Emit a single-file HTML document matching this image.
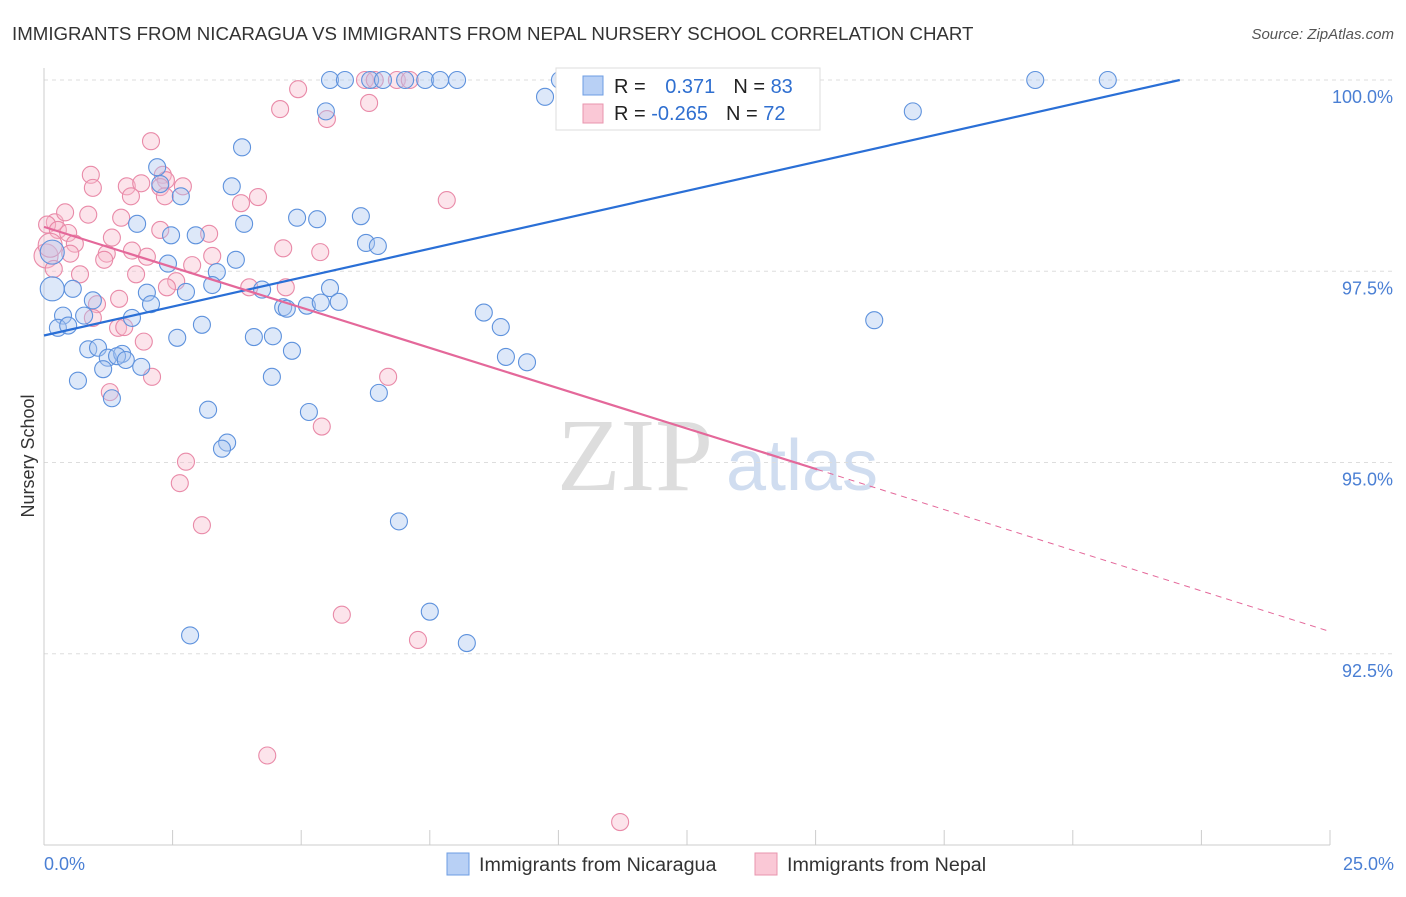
<!DOCTYPE html>
<html><head><meta charset="utf-8"><style>
body{margin:0;background:#fff;font-family:"Liberation Sans",sans-serif}
</style></head><body>
<svg id="c" width="1406" height="892" xmlns="http://www.w3.org/2000/svg" style="font-family:'Liberation Sans',sans-serif">
<text x="12" y="40" font-size="18.7" fill="#333">IMMIGRANTS FROM NICARAGUA VS IMMIGRANTS FROM NEPAL NURSERY SCHOOL CORRELATION CHART</text>
<text x="1394" y="39" font-size="15" fill="#555" text-anchor="end" font-style="italic">Source: ZipAtlas.com</text>
<text x="34" y="456" font-size="18" fill="#333" text-anchor="middle" transform="rotate(-90 34 456)">Nursery School</text>
<g><text x="635" y="490" font-size="104" fill="#ddd" font-family="Liberation Serif" text-anchor="middle">ZIP</text><text x="802" y="490" font-size="72" fill="#d0ddf0" text-anchor="middle">atlas</text></g>
<g id="grid"></g><g id="axes"></g><g id="pts"></g><g id="trend"></g>
<g>
<rect x="556" y="68" width="264" height="62" fill="#fff" stroke="#ddd"/>
<rect x="583" y="76" width="20" height="19" fill="#b8d0f5" stroke="#6d9de3"/>
<rect x="583" y="104" width="20" height="19" fill="#fac8d6" stroke="#e895ae"/>
<text x="614" y="93" font-size="20" fill="#222">R = <tspan fill="#2f6fd0" dx="14">0.371</tspan><tspan fill="#222" dx="18">N = </tspan><tspan fill="#2f6fd0">83</tspan></text>
<text x="614" y="120" font-size="20" fill="#222">R = <tspan fill="#2f6fd0">-0.265</tspan><tspan fill="#222" dx="18">N = </tspan><tspan fill="#2f6fd0">72</tspan></text>
</g>
<g>
<rect x="447" y="853" width="22" height="22" fill="#b8d0f5" stroke="#6d9de3"/>
<text x="479" y="871" font-size="19.7" fill="#333">Immigrants from Nicaragua</text>
<rect x="755" y="853" width="22" height="22" fill="#fac8d6" stroke="#e895ae"/>
<text x="787" y="871" font-size="19.7" fill="#333">Immigrants from Nepal</text>
</g>
</svg>
<script>
const yTicks=[100,97.5,95,92.5];
const yTickLabels=["100.0%","97.5%","95.0%","92.5%"];
const xEdgeLabels=["0.0%","25.0%"];
const blueX=[5.56,5.85,6.34,6.59,7.02,7.41,7.70,8.03,10.03,10.71,11.97,19.27,20.68,9.74,5.48,16.89,3.85,2.20,2.26,3.65,2.66,1.81,3.89,4.92,5.31,6.16,2.47,2.95,6.26,6.49,3.73,2.41,3.36,0.16,0.16,0.56,2.76,2.00,3.27,4.24,5.56,0.95,2.08,4.65,4.72,5.11,5.38,5.73,8.55,16.14,0.37,0.78,1.71,0.27,0.47,3.07,2.59,4.08,4.45,8.88,0.86,1.05,4.82,1.24,1.52,1.42,1.59,1.15,1.89,8.98,9.39,0.66,4.43,1.32,6.51,3.19,5.15,3.56,3.46,6.90,7.50,2.84,8.22];
const blueY=[100,100,100,100,100,100,100,100,100,99.96,100,100,100,99.78,99.59,99.59,99.12,98.86,98.64,98.61,98.48,98.12,98.12,98.20,98.18,98.22,97.97,97.97,97.87,97.83,97.65,97.60,97.49,97.75,97.27,97.27,97.23,97.22,97.32,97.26,97.28,97.12,97.07,97.03,97.01,97.05,97.09,97.10,96.96,96.86,96.92,96.92,96.89,96.76,96.79,96.80,96.63,96.64,96.65,96.77,96.48,96.50,96.46,96.37,96.42,96.39,96.34,96.22,96.25,96.38,96.31,96.07,96.12,95.84,95.91,95.69,95.66,95.26,95.18,94.23,93.05,92.74,92.64];
const pinkX=[4.94,6.24,6.43,6.86,7.11,4.59,6.32,5.50,2.08,0.91,2.31,2.37,0.95,1.61,1.89,2.70,2.26,1.69,4.16,3.83,7.83,2.35,0.86,1.50,0.21,0.41,0.06,0.27,0.47,3.21,2.26,0.60,1.32,4.65,5.37,0.04,0.51,1.71,1.22,2.00,1.17,2.88,3.27,1.79,0.70,0.19,2.57,3.99,4.70,2.39,1.03,1.46,0.95,1.44,1.56,1.94,6.69,2.10,1.28,5.40,2.76,2.64,3.07,5.79,7.27,4.34,11.20,0.12];
const pinkY=[99.88,100,100,100,100,99.62,99.70,99.49,99.20,98.76,98.76,98.69,98.59,98.61,98.65,98.61,98.60,98.48,98.47,98.39,98.43,98.48,98.24,98.20,98.14,98.27,98.11,98.04,98.00,97.99,98.04,97.86,97.94,97.80,97.75,97.70,97.73,97.77,97.73,97.69,97.65,97.58,97.70,97.46,97.46,97.53,97.37,97.29,97.29,97.29,97.07,97.14,96.89,96.76,96.77,96.58,96.12,96.12,95.92,95.47,95.01,94.73,94.18,93.01,92.68,91.17,90.30,97.84];
const blueTrend=[[0,96.66],[22.08,100]];
const pinkTrend=[[0,98.08],[15.03,94.91],[25,92.79]];
const NS="http://www.w3.org/2000/svg";
const X=v=>44+v/25*1286, Y=v=>80+(100-v)/10*765;
function mk(t,a,p){const e=document.createElementNS(NS,t);for(const k in a)e.setAttribute(k,a[k]);document.getElementById(p).appendChild(e);return e;}
yTicks.forEach((t,i)=>{
 const g=mk('line',{x1:44,x2:1394,y1:Y(t),y2:Y(t),stroke:'#ddd','stroke-dasharray':'4 4'},'grid');
 
 
 const l=mk('text',{x:1393,y:Y(t)+23,'font-size':18,fill:'#4a7fd4','text-anchor':'end'},'axes');
 l.textContent=yTickLabels[i];
 
 
});
const ax=mk('line',{x1:44,x2:1330,y1:845,y2:845,stroke:'#ccc'},'axes');


const ay=mk('line',{x1:44,x2:44,y1:68,y2:845,stroke:'#ccc'},'axes');


for(let i=0;i<=10;i++){const t=mk('line',{x1:X(i*2.5),x2:X(i*2.5),y1:830,y2:845,stroke:'#ccc'},'axes');
 
 }
[[0,'start',44],[25,'end',1394]].forEach((d,i)=>{const t=mk('text',{x:d[2],y:870,'font-size':18,fill:'#4a7fd4','text-anchor':d[1]},'axes');t.textContent=xEdgeLabels[i];
 
 });
function pts(xs,ys,f,s,n){xs.forEach((x,i)=>{const r=(x<0.2&&(ys[i]>97.6&&ys[i]<97.9||ys[i]<97.3&&ys[i]>97.2))?12:8.5;
 const c=mk('circle',{cx:X(x),cy:Y(ys[i]),r:r,fill:f,'fill-opacity':0.4,stroke:s,'stroke-width':1.1},'pts');
 
 });}
pts(pinkX,pinkY,'#f8bccd','#e98aa8','nepal-point');
pts(blueX,blueY,'#aac6f0','#5e92dd','nicaragua-point');
const bl=mk('line',{x1:X(blueTrend[0][0]),y1:Y(blueTrend[0][1]),x2:X(blueTrend[1][0]),y2:Y(blueTrend[1][1]),stroke:'#2a6fd6','stroke-width':2.2},'trend');


const pl=mk('line',{x1:X(pinkTrend[0][0]),y1:Y(pinkTrend[0][1]),x2:X(pinkTrend[1][0]),y2:Y(pinkTrend[1][1]),stroke:'#e4689a','stroke-width':2.2},'trend');


const pd=mk('line',{x1:X(pinkTrend[1][0]),y1:Y(pinkTrend[1][1]),x2:X(pinkTrend[2][0]),y2:Y(pinkTrend[2][1]),stroke:'#e4689a','stroke-width':1,'stroke-dasharray':'6 5'},'trend');


</script>
</body></html>
